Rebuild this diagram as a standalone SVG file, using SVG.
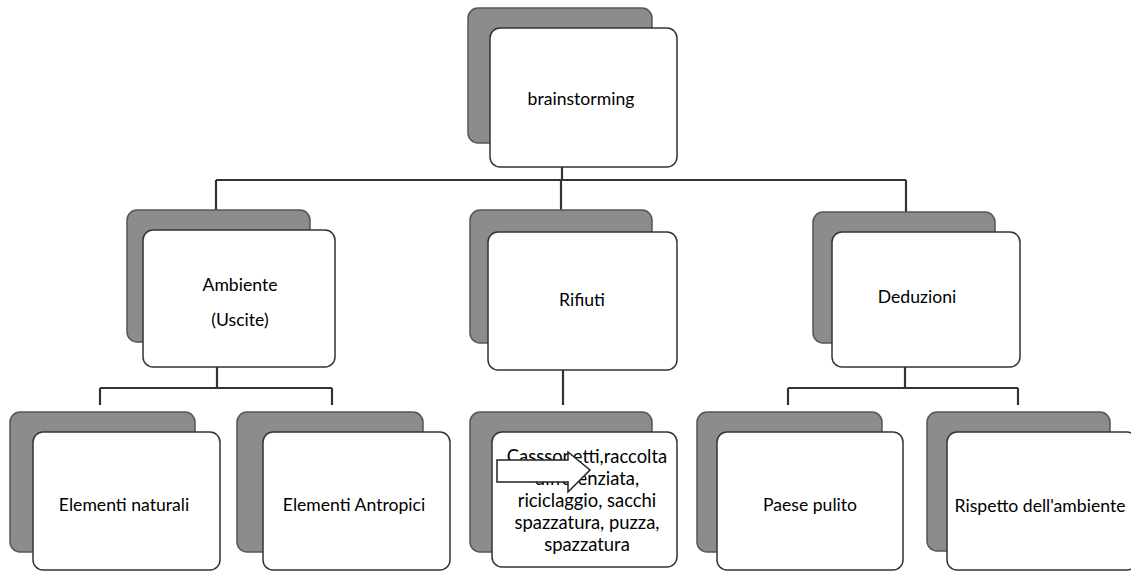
<svg xmlns="http://www.w3.org/2000/svg" width="1131" height="571" viewBox="0 0 1131 571">
<style>
.shadow{fill:#8c8c8c;stroke:#555;stroke-width:1.5}
.card{fill:#fff;stroke:#333;stroke-width:1.5}
.lbl{font-family:Lato,"Liberation Sans",Arial,sans-serif;font-size:17.6px;fill:#000;text-anchor:middle}
.det{font-size:18.4px}
.conn{fill:none;stroke:#333;stroke-width:2.2}
</style>
<rect width="1131" height="571" fill="#fff"/>
<g id="connectors">
<path class="conn" d="M562 167V180M216 180H906M216 180V210M561 180V210M906 180V212"/>
<path class="conn" d="M217 367V388M100 388H332M100 388V405M332 388V405"/>
<path class="conn" d="M563 370V405"/>
<path class="conn" d="M905 367V388M788 388H1018M788 388V405M1018 388V405"/>
</g>
<g id="n-brainstorming">
<rect class="shadow" x="468" y="8" width="184" height="135" rx="10"/>
<rect class="card" x="490" y="28" width="187" height="139" rx="10"/>
<text class="lbl" x="581" y="105">brainstorming</text>
</g>
<g id="n-ambiente">
<rect class="shadow" x="127" y="210" width="183" height="132" rx="10"/>
<rect class="card" x="143" y="230" width="192" height="137" rx="10"/>
<text class="lbl" x="240" y="291">Ambiente</text>
<text class="lbl" x="240" y="326">(Uscite)</text>
</g>
<g id="n-rifiuti">
<rect class="shadow" x="470" y="210" width="182" height="133" rx="10"/>
<rect class="card" x="488" y="232" width="189" height="138" rx="10"/>
<text class="lbl" x="582" y="306">Rifiuti</text>
</g>
<g id="n-deduzioni">
<rect class="shadow" x="813" y="212" width="182" height="131" rx="10"/>
<rect class="card" x="832" y="232" width="188" height="135" rx="10"/>
<text class="lbl" x="917" y="303">Deduzioni</text>
</g>
<g id="n-naturali">
<rect class="shadow" x="10" y="412" width="185" height="140" rx="10"/>
<rect class="card" x="33" y="432" width="187" height="138" rx="10"/>
<text class="lbl" x="124" y="511">Elementi naturali</text>
</g>
<g id="n-antropici">
<rect class="shadow" x="237" y="412" width="186" height="140" rx="10"/>
<rect class="card" x="263" y="432" width="187" height="138" rx="10"/>
<text class="lbl" x="354" y="511">Elementi Antropici</text>
</g>
<g id="n-rifiuti-dettaglio">
<rect class="shadow" x="470" y="412" width="182" height="140" rx="10"/>
<rect class="card" x="492" y="432" width="185" height="135" rx="10"/>
<text class="lbl det" x="587" y="463">Casssonetti,raccolta</text>
<text class="lbl det" x="587" y="485">differenziata,</text>
<text class="lbl det" x="587" y="507">riciclaggio, sacchi</text>
<text class="lbl det" x="587" y="529">spazzatura, puzza,</text>
<text class="lbl det" x="587" y="551">spazzatura</text>
<path d="M497 460H568V452L590 470L568 492V482H497Z" fill="#fff" stroke="#222" stroke-width="1.5"/>
</g>
<g id="n-paese">
<rect class="shadow" x="697" y="412" width="185" height="140" rx="10"/>
<rect class="card" x="717" y="432" width="186" height="138" rx="10"/>
<text class="lbl" x="810" y="511">Paese pulito</text>
</g>
<g id="n-rispetto">
<rect class="shadow" x="927" y="412" width="183" height="139" rx="10"/>
<rect class="card" x="947" y="432" width="190" height="138" rx="10"/>
<text class="lbl" x="1040" y="512">Rispetto dell'ambiente</text>
</g>
</svg>
